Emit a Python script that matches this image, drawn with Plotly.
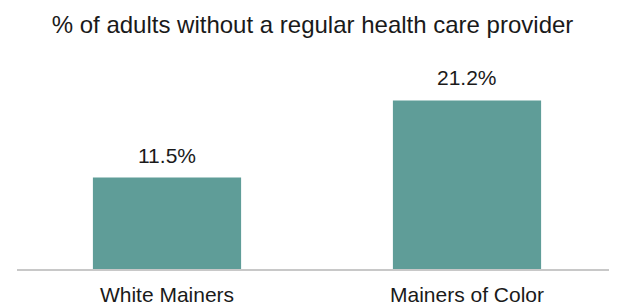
import plotly.graph_objects as go

categories = ["White Mainers", "Mainers of Color"]
values = [11.5, 21.2]
labels = ["11.5%", "21.2%"]

FONT = "Liberation Sans, Arial"
# The page body has an 8px default margin, so the figure is sized 8px smaller.
fig = go.Figure(go.Bar(
    x=categories, y=values,
    marker=dict(color="#5f9d98", line=dict(width=0)),
    hoverinfo="skip",
))
for c, v, t in zip(categories, values, labels):
    fig.add_annotation(x=c, y=v, text=t, showarrow=False, yanchor="bottom",
                       yshift=9, font=dict(family=FONT, size=21, color="#1a1a1a"))

fig.update_layout(
    width=609, height=298,
    margin=dict(l=8.5, r=0, t=32, b=37, autoexpand=False),
    paper_bgcolor="white", plot_bgcolor="white",
    bargap=0.506,
    showlegend=False,
    title=dict(text="% of adults without a regular health care provider",
               x=0.5, xanchor="center", y=0.943, yanchor="middle",
               font=dict(family=FONT, size=24, color="#1a1a1a")),
    xaxis=dict(showline=True, linecolor="#c8c8c8", linewidth=2, ticks="",
               range=[-0.5, 1.5], automargin=False, ticklabelstandoff=6,
               tickfont=dict(family=FONT, size=21, color="#1a1a1a")),
    yaxis=dict(range=[0, 28.8], visible=False, automargin=False),
)
fig.write_html("out.html")
